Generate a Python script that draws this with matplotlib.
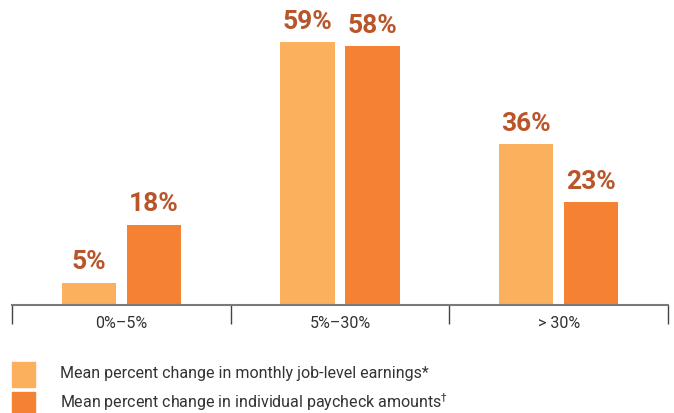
import matplotlib.pyplot as plt
from matplotlib.patches import Rectangle
import numpy as np

# data
categories = ['0%\u20135%', '5%\u201330%', '> 30%']
job_earnings = [5, 59, 36]
paycheck = [18, 58, 23]
series_names = ['Mean percent change in monthly job-level earnings*',
                'Mean percent change in individual paycheck amounts$^{\\dagger}$']

light = '#FBB05E'
dark = '#F58233'
labelcolor = '#B9552A'

plt.rcParams['font.family'] = ['Roboto', 'DejaVu Sans']

W, H = 674, 413
fig = plt.figure(figsize=(W / 100, H / 100), dpi=100)
ax = fig.add_axes([12 / W, (H - 305) / H, 656 / W, 305 / H])

x = np.arange(len(categories))
bw = 0.248
off = 0.149
b1 = ax.bar(x - off, job_earnings, bw, color=light, zorder=1)
b2 = ax.bar(x + off, paycheck, bw, color=dark, zorder=1)

for bars, vals in ((b1, job_earnings), (b2, paycheck)):
    for r, v in zip(bars, vals):
        ax.annotate(f'{v}%', (r.get_x() + r.get_width() / 2, v), xytext=(0, 6),
                    textcoords='offset points', ha='center', va='bottom',
                    fontsize=19, fontweight='bold', color=labelcolor)

ax.set_xlim(-0.5, 2.5)
ax.set_ylim(0, 68.4)
for s in ['top', 'right', 'left']:
    ax.spines[s].set_visible(False)
ax.spines['bottom'].set_color('#7a7a7a')
ax.spines['bottom'].set_linewidth(1.5)
ax.spines['bottom'].set_zorder(3)
ax.set_yticks([])

ax.set_xticks(x)
ax.set_xticklabels(categories, fontsize=11.5, color='#333333')
ax.tick_params(axis='x', which='major', length=0, pad=8)
ax.set_xticks([-0.5, 0.5, 1.5, 2.5], minor=True)
ax.tick_params(axis='x', which='minor', length=13.5, width=1, color='#444444', direction='out')

# legend drawn by hand
for i, (name, c) in enumerate(zip(series_names, [light, dark])):
    ytop = 362 + i * 30
    fig.add_artist(Rectangle((12 / W, (H - ytop - 25) / H), 23 / W, 25 / H,
                             transform=fig.transFigure, color=c))
    fig.text(60 / W, (H - 378 - i * 30) / H, name, fontsize=11.5, color='#333333',
             va='baseline', ha='left')

fig.savefig('out.png', dpi=100)
